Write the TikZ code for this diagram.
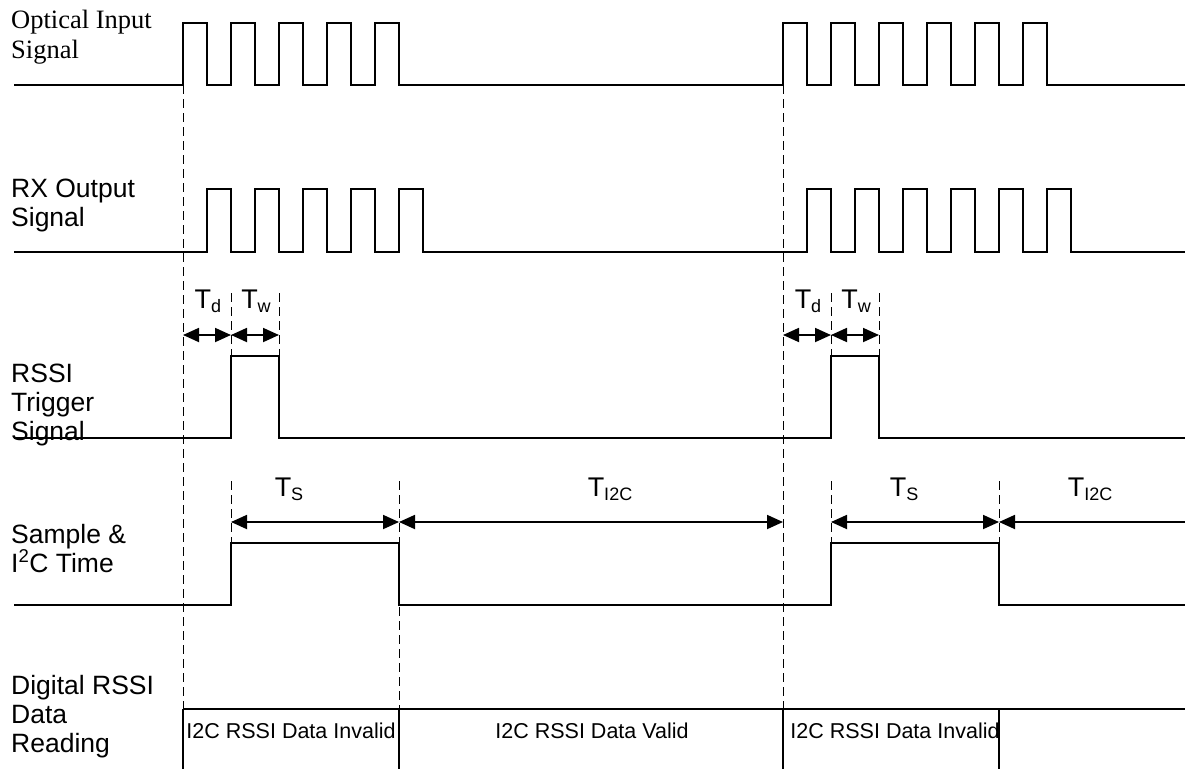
\documentclass[tikz,border=0pt]{standalone}
\usepackage{fontspec}
\setmainfont{Liberation Sans}
\newfontfamily\seriffont{Liberation Serif}
\usetikzlibrary{arrows.meta}
\newcommand{\tsub}[1]{\raisebox{-4pt}{\fontsize{18}{18}\selectfont #1}}

\begin{document}
\begin{tikzpicture}[x=1pt, y=-1pt,
  sig/.style={line width=1.8pt},
  guide/.style={line width=0.9pt, dash pattern=on 9pt off 5pt},
  dim/.style={line width=1.8pt,
    {Triangle[length=16pt,width=14pt]}-{Triangle[length=16pt,width=14pt]}},
  dimleft/.style={line width=1.8pt, {Triangle[length=16pt,width=14pt]}-},
  rowlbl/.style={font=\fontsize{26.5}{29}\selectfont, align=left,
                 anchor=base west, inner sep=0pt},
  tlbl/.style={font=\fontsize{27}{27}\selectfont, anchor=base, inner sep=0pt},
  slbl/.style={font=\fontsize{21.5}{21.5}\selectfont, anchor=base, inner sep=0pt}]

\useasboundingbox (0,0) rectangle (1187,769);

% row labels (anchored on their last line)
\node[rowlbl, font=\seriffont\fontsize{26.5}{30}\selectfont] (optical) at (11,58)
  {Optical Input\\Signal};
\node[rowlbl] (rxout) at (11,226) {RX Output\\Signal};
\node[rowlbl] (trigger) at (11,440) {RSSI\\Trigger\\Signal};
\node[rowlbl] (sample) at (11,572) {Sample \&\\I\textsuperscript{2}C Time};
\node[rowlbl] (digital) at (11,752) {Digital RSSI\\Data\\Reading};

% optical input
\draw[sig] (14,85)
  \foreach \i in {0,...,4}{ -- (183+48*\i,85) -- (183+48*\i,23)
                            -- (207+48*\i,23) -- (207+48*\i,85)}
  \foreach \i in {0,...,5}{ -- (783+48*\i,85) -- (783+48*\i,23)
                            -- (807+48*\i,23) -- (807+48*\i,85)}
  -- (1185,85);

% rx output
\draw[sig] (14,252)
  \foreach \i in {0,...,4}{ -- (207+48*\i,252) -- (207+48*\i,189)
                            -- (231+48*\i,189) -- (231+48*\i,252)}
  \foreach \i in {0,...,5}{ -- (807+48*\i,252) -- (807+48*\i,189)
                            -- (831+48*\i,189) -- (831+48*\i,252)}
  -- (1185,252);

% rssi trigger
\draw[sig] (14,438) -- (231,438) -- (231,356) -- (279,356) -- (279,438)
  -- (831,438) -- (831,356) -- (879,356) -- (879,438) -- (1185,438);

% sample and i2c time
\draw[sig] (14,605) -- (231,605) -- (231,543) -- (399,543) -- (399,605)
  -- (831,605) -- (831,543) -- (999,543) -- (999,605) -- (1185,605);

% data reading
\draw[sig] (183,709) -- (1185,709);
\foreach \x in {183,399,783,999}{\draw[sig] (\x,709) -- (\x,769);}

% guides
\draw[guide] (183,85) -- (183,709);
\draw[guide] (783,85) -- (783,709);
\draw[guide] (399,481) -- (399,709);
\draw[guide] (999,481) -- (999,543);
\foreach \x in {231,279,831,879}{\draw[guide] (\x,293) -- (\x,356);}
\foreach \x in {231,831}{\draw[guide] (\x,481) -- (\x,543);}

% delay and width
\foreach \g/\x in {a/183, b/783}{
  \coordinate (d\g0) at (\x,335);
  \coordinate (d\g1) at (\x+48,335);
  \coordinate (d\g2) at (\x+96,335);
  \draw[dim] (d\g0) -- (d\g1);
  \draw[dim] (d\g1) -- (d\g2);}
\node[tlbl] (tda) at (208,308) {T\tsub{d}};
\node[tlbl] (twa) at (256,308) {T\tsub{w}};
\node[tlbl] (tdb) at (808,308) {T\tsub{d}};
\node[tlbl] (twb) at (856,308) {T\tsub{w}};

% sample and i2c spans
\coordinate (sa) at (231,522);
\coordinate (ia) at (399,522);
\coordinate (sb) at (783,522);
\coordinate (sc) at (831,522);
\coordinate (ib) at (999,522);
\coordinate (iend) at (1185,522);
\draw[dim] (sa) -- (ia);
\draw[dim] (ia) -- (sb);
\draw[dim] (sc) -- (ib);
\draw[dimleft] (ib) -- (iend);
\node[tlbl] (tsa) at (289,496) {T\tsub{S}};
\node[tlbl] (tia) at (610,496) {T\tsub{I2C}};
\node[tlbl] (tsb) at (904,496) {T\tsub{S}};
\node[tlbl] (tib) at (1090,496) {T\tsub{I2C}};

% data states
\node[slbl] (inva) at (291,738) {I2C RSSI Data Invalid};
\node[slbl] (valid) at (592,738) {I2C RSSI Data Valid};
\node[slbl] (invb) at (895,738) {I2C RSSI Data Invalid};

\end{tikzpicture}
\end{document}
